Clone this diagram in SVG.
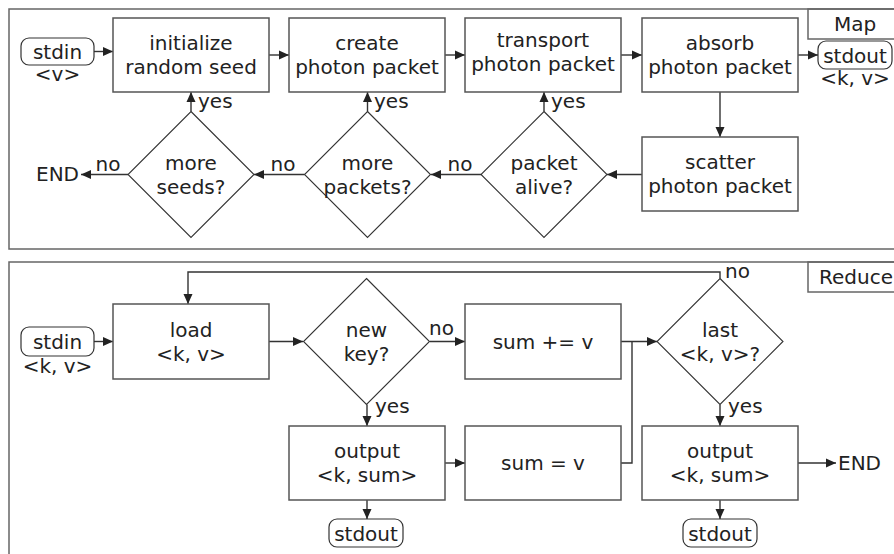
<svg xmlns="http://www.w3.org/2000/svg" width="894" height="554" viewBox="0 0 894 554">
<style>
text{font-family:"DejaVu Sans","Liberation Sans",sans-serif;font-size:20px;fill:#222}
.c{text-anchor:middle}
.panel{fill:none;stroke:#666;stroke-width:1.5}
.box{fill:#fff;stroke:#555;stroke-width:1.5}
.pill{fill:#fff;stroke:#333;stroke-width:1.2}
.dia{fill:#fff;stroke:#333;stroke-width:1.1}
.ln{fill:none;stroke:#333;stroke-width:1.4;marker-end:url(#ah)}
.ln2{fill:none;stroke:#333;stroke-width:1.4}
</style>
<defs>
<marker id="ah" markerUnits="userSpaceOnUse" markerWidth="11" markerHeight="10" refX="10" refY="5" orient="auto">
<path d="M0,0.5 L10,5 L0,9.5 Z" fill="#222"/>
</marker>
</defs>
<rect width="894" height="554" fill="#fff"/>
<g id="panels">
<rect class="panel" x="9" y="9" width="900" height="240"/>
<rect class="panel" x="9" y="262" width="900" height="310"/>
<rect class="panel" x="808" y="9" width="100" height="30"/>
<text class="c" x="855" y="31">Map</text>
<rect class="panel" x="808" y="262" width="100" height="30"/>
<text x="819" y="284">Reduce</text>
</g>
<g id="connectors">
<path class="ln" d="M94,51.5 H113"/>
<path class="ln" d="M269,55 H289"/>
<path class="ln" d="M445,55 H465"/>
<path class="ln" d="M621,55 H642"/>
<path class="ln" d="M798,55 H818"/>
<path class="ln" d="M720,92 V137"/>
<path class="ln" d="M642,174.5 H607"/>
<path class="ln" d="M544,111.5 V92"/>
<path class="ln" d="M481,174.5 H431"/>
<path class="ln" d="M367.5,111.5 V92"/>
<path class="ln" d="M304.5,174.5 H254"/>
<path class="ln" d="M191,111.5 V92"/>
<path class="ln" d="M128,174.5 H81"/>
<path class="ln" d="M94,341.5 H113"/>
<path class="ln" d="M269,341.5 H303"/>
<path class="ln" d="M430,341.5 H465"/>
<path class="ln" d="M621,341.5 H657"/>
<path class="ln2" d="M621,463 H632 V341.5"/>
<path class="ln" d="M367,404.5 V426"/>
<path class="ln" d="M445,463 H465"/>
<path class="ln" d="M367,500 V519"/>
<path class="ln" d="M720,404.5 V426"/>
<path class="ln" d="M798,463 H836"/>
<path class="ln" d="M720,500 V519"/>
<path class="ln" d="M720,278.5 V272 H188 V304"/>
</g>
<g id="labels">
<text x="198" y="108">yes</text>
<text x="374" y="108">yes</text>
<text x="551" y="108">yes</text>
<text class="c" x="108" y="171">no</text>
<text class="c" x="283" y="171">no</text>
<text class="c" x="460" y="171">no</text>
<text x="36" y="181">END</text>
<text x="429" y="335">no</text>
<text x="725" y="278">no</text>
<text x="375" y="413">yes</text>
<text x="728" y="413">yes</text>
<text x="838" y="470">END</text>
</g>
<g id="stdin-map">
<rect class="pill" x="21" y="38" width="73" height="27" rx="8"/>
<text class="c" x="57.5" y="58.5">stdin</text>
<text class="c" x="57.5" y="81">&lt;v&gt;</text>
</g>
<g id="init">
<rect class="box" x="113" y="18" width="156" height="74"/>
<text class="c" x="191" y="50">initialize</text>
<text class="c" x="191" y="74">random seed</text>
</g>
<g id="create">
<rect class="box" x="289" y="18" width="156" height="74"/>
<text class="c" x="367" y="50">create</text>
<text class="c" x="367" y="74">photon packet</text>
</g>
<g id="transport">
<rect class="box" x="465" y="18" width="156" height="74"/>
<text class="c" x="543" y="47">transport</text>
<text class="c" x="543" y="71">photon packet</text>
</g>
<g id="absorb">
<rect class="box" x="642" y="18" width="156" height="74"/>
<text class="c" x="720" y="50">absorb</text>
<text class="c" x="720" y="74">photon packet</text>
</g>
<g id="stdout-map">
<rect class="pill" x="818" y="41" width="74" height="28" rx="8"/>
<text class="c" x="855" y="62.5">stdout</text>
<text class="c" x="855" y="85">&lt;k, v&gt;</text>
</g>
<g id="scatter">
<rect class="box" x="642" y="137" width="156" height="74"/>
<text class="c" x="720" y="169">scatter</text>
<text class="c" x="720" y="193">photon packet</text>
</g>
<g id="alive">
<path class="dia" d="M544,111.5 L607,174.5 L544,237.5 L481,174.5 Z"/>
<text class="c" x="544" y="169.5">packet</text>
<text class="c" x="544" y="193.5">alive?</text>
</g>
<g id="more-packets">
<path class="dia" d="M367.5,111.5 L430.5,174.5 L367.5,237.5 L304.5,174.5 Z"/>
<text class="c" x="367.5" y="169.5">more</text>
<text class="c" x="367.5" y="193.5">packets?</text>
</g>
<g id="more-seeds">
<path class="dia" d="M191,111.5 L254,174.5 L191,237.5 L128,174.5 Z"/>
<text class="c" x="191" y="169.5">more</text>
<text class="c" x="191" y="193.5">seeds?</text>
</g>
<g id="stdin-reduce">
<rect class="pill" x="21" y="327" width="73" height="29" rx="8"/>
<text class="c" x="57.5" y="349">stdin</text>
<text class="c" x="57.5" y="373">&lt;k, v&gt;</text>
</g>
<g id="load">
<rect class="box" x="113" y="304" width="156" height="75"/>
<text class="c" x="191" y="337">load</text>
<text class="c" x="191" y="361">&lt;k, v&gt;</text>
</g>
<g id="new-key">
<path class="dia" d="M366.5,278.5 L429.5,341.5 L366.5,404.5 L303.5,341.5 Z"/>
<text class="c" x="366.5" y="336.5">new</text>
<text class="c" x="366.5" y="360.5">key?</text>
</g>
<g id="sum-add">
<rect class="box" x="465" y="304" width="156" height="75"/>
<text class="c" x="543" y="348.5">sum += v</text>
</g>
<g id="last">
<path class="dia" d="M720,278.5 L783,341.5 L720,404.5 L657,341.5 Z"/>
<text class="c" x="720" y="336.5">last</text>
<text class="c" x="720" y="360.5">&lt;k, v&gt;?</text>
</g>
<g id="output1">
<rect class="box" x="289" y="426" width="156" height="74"/>
<text class="c" x="367" y="458">output</text>
<text class="c" x="367" y="482">&lt;k, sum&gt;</text>
</g>
<g id="sum-set">
<rect class="box" x="465" y="426" width="156" height="74"/>
<text class="c" x="543" y="470">sum = v</text>
</g>
<g id="output2">
<rect class="box" x="642" y="426" width="156" height="74"/>
<text class="c" x="720" y="458">output</text>
<text class="c" x="720" y="482">&lt;k, sum&gt;</text>
</g>
<g id="stdout1">
<rect class="pill" x="329" y="519" width="74" height="28" rx="8"/>
<text class="c" x="366" y="541">stdout</text>
</g>
<g id="stdout2">
<rect class="pill" x="683" y="519" width="74" height="28" rx="8"/>
<text class="c" x="720" y="541">stdout</text>
</g>
</svg>
